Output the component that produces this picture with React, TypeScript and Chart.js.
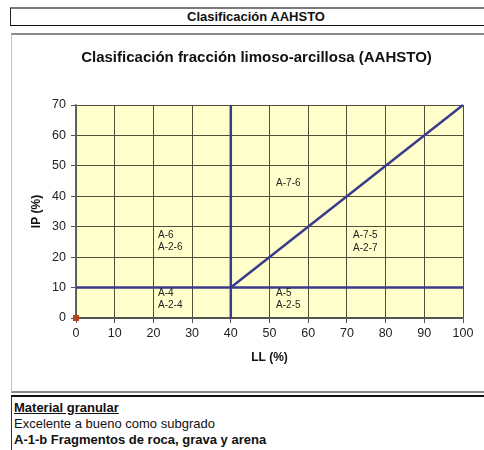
import React, { useEffect, useRef } from "react";
import { Chart, registerables } from "chart.js";

Chart.register(...registerables);

// ---- data ----
const headerTitle = "Clasificación AAHSTO";
const chartTitle = "Clasificación fracción limoso-arcillosa (AAHSTO)";
const xAxisTitle = "LL (%)";
const yAxisTitle = "IP (%)";

const xMin = 0;
const xMax = 100;
const xStep = 10;
const yMin = 0;
const yMax = 70;
const yStep = 10;

// boundary lines (LL, IP)
const horizontalLL = [0, 100];
const horizontalIP = [10, 10];
const verticalLL = [40, 40];
const verticalIP = [0, 70];
const diagonalLL = [40, 100];
const diagonalIP = [10, 70];

// sample point
const sampleLL = [0];
const sampleIP = [0];

// zone labels (anchor = first line, in data units)
const zoneLines = [
  ["A-6", "A-2-6"],
  ["A-4", "A-2-4"],
  ["A-7-6"],
  ["A-7-5", "A-2-7"],
  ["A-5", "A-2-5"],
];
const zoneLL = [21.2, 21.2, 51.7, 71.6, 51.7];
const zoneIP = [27.3, 8.2, 44.4, 27.1, 8.2];

const infoLines = [
  "Material granular",
  "Excelente a bueno como subgrado",
  "A-1-b Fragmentos de roca, grava y arena",
];

const FONT = '"Liberation Sans", Arial, Helvetica, sans-serif';

const toPts = (xs: number[], ys: number[]) => xs.map((x, i) => ({ x, y: ys[i] }));

const bgPlugin = {
  id: "plotBg",
  beforeDraw(chart: any) {
    const { ctx, chartArea } = chart;
    if (!chartArea) return;
    ctx.save();
    ctx.fillStyle = "#FFFFCC";
    ctx.fillRect(chartArea.left, chartArea.top, chartArea.right - chartArea.left, chartArea.bottom - chartArea.top);
    ctx.restore();
  },
};

const zoneLabelPlugin = {
  id: "zoneLabels",
  afterDatasetsDraw(chart: any) {
    const { ctx, scales } = chart;
    ctx.save();
    ctx.font = `10px ${FONT}`;
    ctx.fillStyle = "#222";
    ctx.textAlign = "left";
    ctx.textBaseline = "middle";
    zoneLines.forEach((lines, i) => {
      const px = scales.x.getPixelForValue(zoneLL[i]);
      const py = scales.y.getPixelForValue(zoneIP[i]);
      lines.forEach((t, j) => ctx.fillText(t, px, py + j * 12.5));
    });
    ctx.restore();
  },
};

function ChartCanvas() {
  const ref = useRef<HTMLCanvasElement>(null);
  useEffect(() => {
    if (!ref.current) return;
    Chart.defaults.font.family = FONT;
    const lineStyle = {
      showLine: true,
      borderColor: "#3B3B8E",
      backgroundColor: "#3B3B8E",
      borderWidth: 2.5,
      pointRadius: 0,
      clip: 3,
    };
    const chart = new Chart(ref.current, {
      type: "scatter",
      data: {
        datasets: [
          { ...lineStyle, data: toPts(horizontalLL, horizontalIP) },
          { ...lineStyle, data: toPts(verticalLL, verticalIP) },
          { ...lineStyle, data: toPts(diagonalLL, diagonalIP) },
          {
            data: toPts(sampleLL, sampleIP),
            pointStyle: "rect",
            pointRadius: 4.3,
            backgroundColor: "#B5441B",
            borderColor: "#B5441B",
            borderWidth: 0,
            clip: false,
          } as any,
        ],
      },
      options: {
        animation: false,
        responsive: false,
        maintainAspectRatio: false,
        layout: { padding: { left: 38, right: 21, top: 0, bottom: 0 } },
        plugins: {
          legend: { display: false },
          tooltip: { enabled: false },
          title: {
            display: true,
            text: chartTitle,
            color: "#111",
            font: { family: FONT, size: 15, weight: "bold" },
            padding: { top: 14, bottom: 38 },
          },
        },
        scales: {
          x: {
            type: "linear",
            min: xMin,
            max: xMax,
            ticks: { stepSize: xStep, color: "#222", font: { size: 12.5 }, padding: 3 },
            grid: { color: "#4F4F3C", lineWidth: 1, tickLength: 5, tickColor: "#555" },
            border: { color: "#555", width: 1.5 },
            title: {
              display: true,
              text: xAxisTitle,
              color: "#111",
              font: { size: 12, weight: "bold" },
              padding: { top: 0, bottom: 23.8 },
            },
            afterFit: (s: any) => {
              s.height = 71;
            },
          },
          y: {
            type: "linear",
            min: yMin,
            max: yMax,
            ticks: { stepSize: yStep, color: "#222", font: { size: 12.5 }, padding: 5 },
            grid: { color: "#4F4F3C", lineWidth: 1, tickLength: 5, tickColor: "#555" },
            border: { color: "#666", width: 1.5 },
            title: {
              display: true,
              text: yAxisTitle,
              color: "#111",
              font: { size: 12, weight: "bold" },
              padding: { top: -20.5, bottom: 0 },
            },
            afterFit: (s: any) => {
              s.width = 26;
            },
          },
        },
      } as any,
      plugins: [bgPlugin, zoneLabelPlugin],
    });
    return () => chart.destroy();
  }, []);
  return (
    <canvas
      ref={ref}
      width={472}
      height={354}
      style={{ position: "absolute", left: 12, top: 35, width: 472, height: 354 }}
    />
  );
}

export default function App() {
  return (
    <div
      style={{
        position: "absolute",
        left: 0,
        top: 0,
        width: 484,
        height: 450,
        overflow: "hidden",
        background: "#fff",
        fontFamily: FONT,
        color: "#111",
      }}
    >
      <div
        style={{
          position: "absolute",
          left: 10,
          top: 7,
          width: 490,
          height: 16,
          borderTop: "2px solid #7a7a7a",
          borderLeft: "1px solid #222",
          borderBottom: "1.5px solid #111",
          textAlign: "center",
          fontSize: 13,
          fontWeight: "bold",
          lineHeight: "16px",
          boxSizing: "content-box",
        }}
      >
        {headerTitle}
      </div>
      <div
        style={{
          position: "absolute",
          left: 11,
          top: 33,
          width: 490,
          height: 356,
          borderTop: "2px solid #8a8a8a",
          borderLeft: "1px solid #c0c0c0",
          borderBottom: "2px solid #8a8a8a",
        }}
      />
      <ChartCanvas />
      <div
        style={{
          position: "absolute",
          left: 11,
          top: 395,
          width: 490,
          height: 60,
          borderTop: "2px solid #111",
          borderLeft: "1px solid #333",
          paddingLeft: 2,
          paddingTop: 3,
          fontSize: 13,
          lineHeight: "16px",
        }}
      >
        <div style={{ fontWeight: "bold", textDecoration: "underline" }}>{infoLines[0]}</div>
        <div>{infoLines[1]}</div>
        <div style={{ fontWeight: "bold" }}>{infoLines[2]}</div>
      </div>
    </div>
  );
}
